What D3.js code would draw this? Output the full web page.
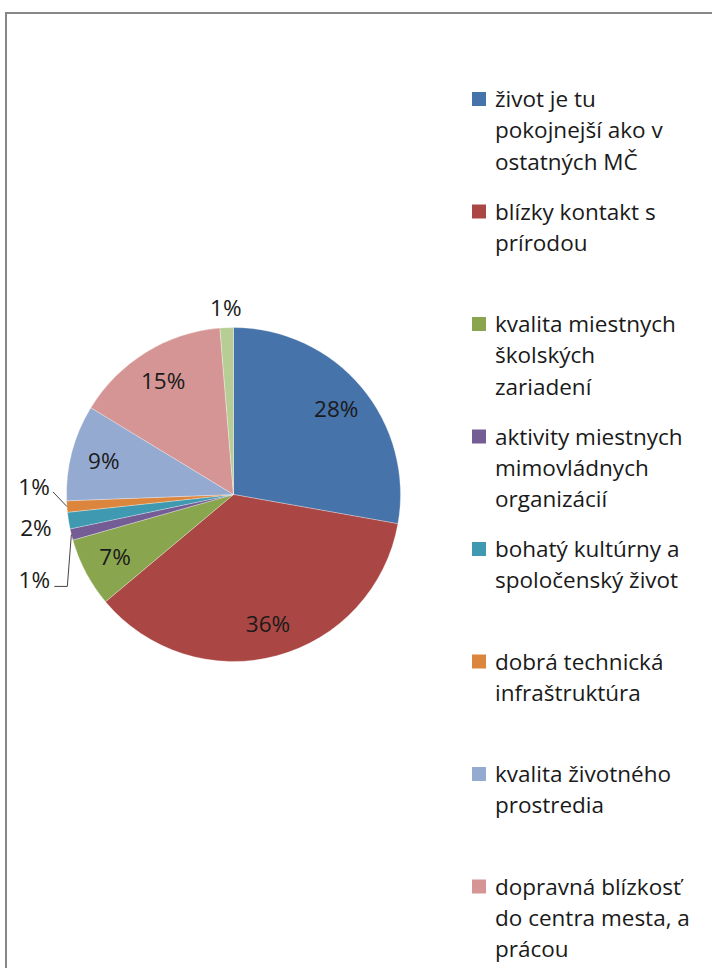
<!DOCTYPE html>
<html>
<head>
<meta charset="utf-8">
<script src="https://cdn.jsdelivr.net/npm/d3@7"></script>
<style>
  html, body { margin: 0; padding: 0; background: #fff; }
  svg { display: block; }
  text { font-family: "Open Sans", sans-serif; fill: #1a1a1a; }
</style>
</head>
<body>
<svg id="chart" width="712" height="968"></svg>
<script>
// ---- data ----
const categories = [
  "život je tu pokojnejší ako v ostatných MČ",
  "blízky kontakt s prírodou",
  "kvalita miestnych školských zariadení",
  "aktivity miestnych mimovládnych organizácií",
  "bohatý kultúrny a spoločenský život",
  "dobrá technická infraštruktúra",
  "kvalita životného prostredia",
  "dopravná blízkosť do centra mesta, a prácou",
  "iné"
];
const legendLines = [
  ["život je tu", "pokojnejší ako v", "ostatných MČ"],
  ["blízky kontakt s", "prírodou"],
  ["kvalita miestnych", "školských", "zariadení"],
  ["aktivity miestnych", "mimovládnych", "organizácií"],
  ["bohatý kultúrny a", "spoločenský život"],
  ["dobrá technická", "infraštruktúra"],
  ["kvalita životného", "prostredia"],
  ["dopravná blízkosť", "do centra mesta, a", "prácou"],
  ["iné"]
];
const values = [27.8, 36.1, 6.7, 1.1, 1.6, 1.1, 9.3, 15.0, 1.3];
const colors = ["#4673AA", "#AA4643", "#89A54E", "#745C94", "#3F99B1",
                "#DC853D", "#94AAD0", "#D49594", "#B8CD95"];

// ---- layout ----
const svg = d3.select("#chart");
const cx = 233.5, cy = 494.5, R = 167;
const fontSize = 22.5;

// chart border
svg.append("rect")
  .attr("x", 6).attr("y", 13)
  .attr("width", 760).attr("height", 1000)
  .attr("fill", "none").attr("stroke", "#878787").attr("stroke-width", 2);

const pie = d3.pie().sort(null).value(d => d);
const arcs = pie(values);
const arc = d3.arc().innerRadius(0).outerRadius(R);
const labelArc = d3.arc().innerRadius(134).outerRadius(134);
const outerArc = d3.arc().innerRadius(200).outerRadius(200);
const edgeArc = d3.arc().innerRadius(R).outerRadius(R);

const g = svg.append("g").attr("transform", `translate(${cx},${cy})`);

g.selectAll("path.slice")
  .data(arcs)
  .join("path")
  .attr("class", "slice")
  .attr("d", arc)
  .attr("fill", (d, i) => colors[i])
  .attr("stroke", "#ffffff")
  .attr("stroke-opacity", 0.5)
  .attr("stroke-width", 0.6);

// label placement (layout nudges for small outside labels)
const outsideNudge = {3: [-5, 37, "elbow"], 4: [0, 2, null], 5: [0, -22, "straight"], 8: [0.5, 13, null]};

arcs.forEach((d, i) => {
  const txt = Math.round(d.data) + "%";
  let x, y;
  if (outsideNudge[i]) {
    const [nx, ny, leader] = outsideNudge[i];
    const c = outerArc.centroid(d);
    x = c[0] + nx; y = c[1] + ny;
    const e = edgeArc.centroid(d);
    if (leader === "straight") {
      g.append("path")
        .attr("d", d3.line()([[e[0], e[1]], [x + 19, y + 5]]))
        .attr("fill", "none").attr("stroke", "#444").attr("stroke-width", 1);
    } else if (leader === "elbow") {
      g.append("path")
        .attr("d", d3.line()([[e[0], e[1]], [x + 33, y + 7], [x + 20, y + 7]]))
        .attr("fill", "none").attr("stroke", "#444").attr("stroke-width", 1);
    }
  } else {
    const c = labelArc.centroid(d);
    x = c[0]; y = c[1];
  }
  g.append("text")
    .attr("x", x).attr("y", y)
    .attr("dy", "0.36em")
    .attr("text-anchor", "middle")
    .attr("font-size", fontSize)
    .text(txt);
});

// legend
const legendY = d3.scaleLinear().domain([0, 1]).range([107, 219.5]);
const legend = svg.append("g");
legendLines.forEach((lines, i) => {
  const y0 = legendY(i);
  legend.append("rect")
    .attr("x", 472).attr("y", y0 - 15)
    .attr("width", 14).attr("height", 14)
    .attr("fill", colors[i]);
  const t = legend.append("text")
    .attr("x", 495).attr("y", y0)
    .attr("font-size", fontSize);
  lines.forEach((ln, k) => {
    t.append("tspan").attr("x", 495).attr("y", y0 + k * 31.3).text(ln);
  });
});
</script>
</body>
</html>
